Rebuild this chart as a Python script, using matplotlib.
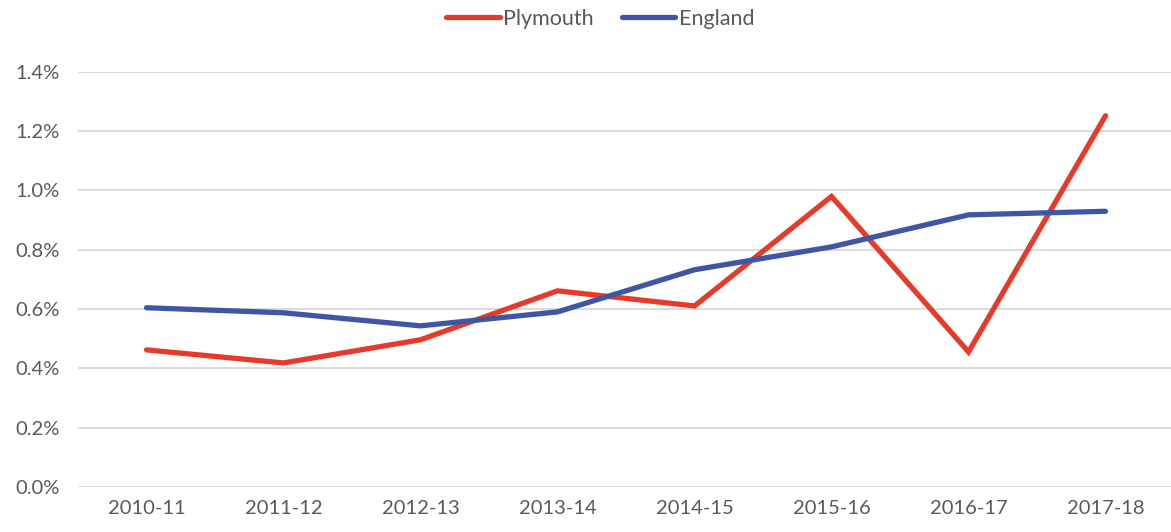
import matplotlib.pyplot as plt
from matplotlib.ticker import FuncFormatter

# Data (percent)
years = ["2010-11", "2011-12", "2012-13", "2013-14", "2014-15", "2015-16", "2016-17", "2017-18"]
plymouth = [0.462, 0.418, 0.496, 0.661, 0.610, 0.979, 0.455, 1.251]
england = [0.604, 0.587, 0.543, 0.590, 0.732, 0.809, 0.917, 0.929]

plt.rcParams['font.family'] = ['Lato', 'DejaVu Sans']

fig = plt.figure(figsize=(11.71, 5.32), dpi=100)
W, H = 1171, 532
ax = fig.add_axes([78 / W, 1 - 487 / H, 1096 / W, (487 - 71.5) / H])

x = range(len(years))
ax.plot(x, plymouth, color='#E63B2A', lw=3.8, solid_capstyle='round', solid_joinstyle='miter', label='Plymouth')
ax.plot(x, england, color='#3F56A5', lw=3.8, solid_capstyle='round', solid_joinstyle='miter', label='England')

ax.set_xlim(-0.5, len(years) - 0.5)
ax.set_ylim(0, 1.4)
ax.set_yticks([0, 0.2, 0.4, 0.6, 0.8, 1.0, 1.2, 1.4])
ax.yaxis.set_major_formatter(FuncFormatter(lambda v, p: f"{v:.1f}%"))
ax.set_xticks(list(x))
ax.set_xticklabels(years)

ax.grid(axis='y', color='#D9D9D9', lw=1.3)
ax.set_axisbelow(True)
for s in ax.spines.values():
    s.set_visible(False)
ax.tick_params(axis='both', length=0, labelsize=14.5, colors='#595959')
ax.tick_params(axis='y', pad=13)
ax.tick_params(axis='x', pad=9)

leg = fig.legend(loc='center', bbox_to_anchor=(600 / W, 1 - 19 / H), ncol=2, frameon=False,
                 fontsize=15.5, handlelength=2.5, columnspacing=1.3, handletextpad=0.15)
for t in leg.get_texts():
    t.set_color('#595959')

fig.savefig('out.png', dpi=100)
